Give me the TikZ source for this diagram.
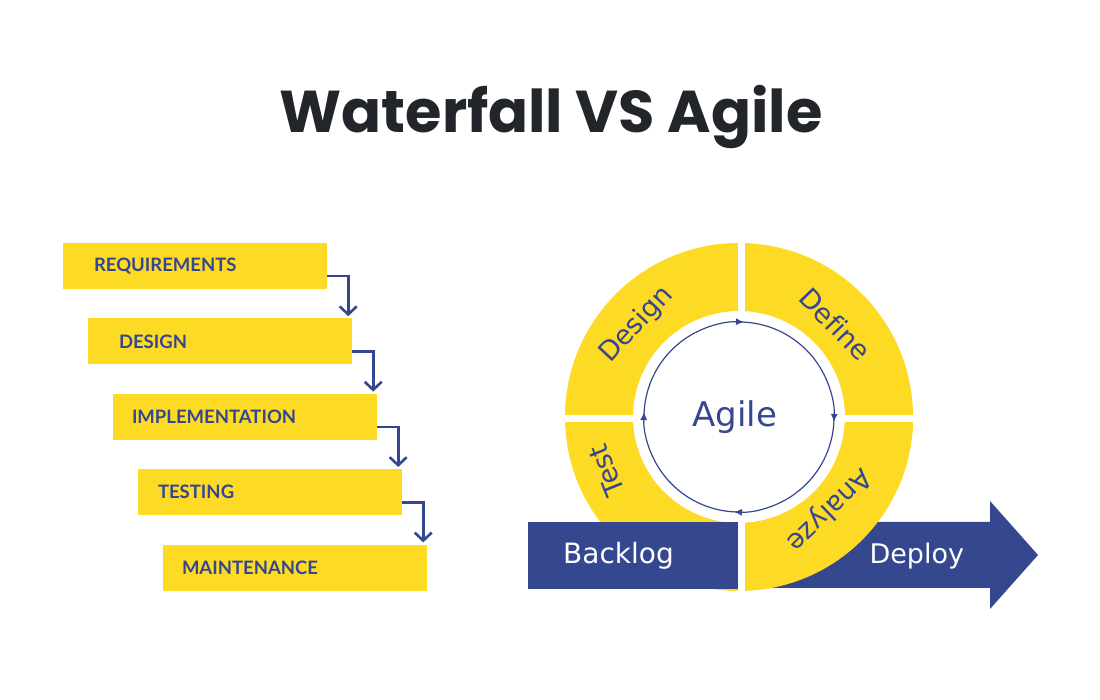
\documentclass[tikz,border=0pt]{standalone}
\usepackage{fontspec}
\setmainfont{DejaVu Sans}[Ligatures=NoCommon]
\newfontfamily\titlefont{Poppins}
\newfontfamily\stepfont{Lato}
\usetikzlibrary{arrows.meta, positioning}

\definecolor{wfyellow}{HTML}{FDDA24}
\definecolor{wfblue}{HTML}{35478F}
\definecolor{titlegray}{HTML}{222529}

\begin{document}
\begin{tikzpicture}[
    x=1pt, y=1pt,
    node distance=29pt,
    wfbox/.style={fill=wfyellow, text=wfblue, align=left,
                  minimum height=46pt, inner ysep=0pt,
                  inner xsep=#1, text width=264pt-2*#1,
                  font=\stepfont\bfseries\fontsize{18.5}{22}\selectfont},
    flow/.style={-{Straight Barb[length=8pt,width=17pt]}, wfblue, line width=2.6pt},
    ringtext/.style={text=wfblue, font=\fontsize{27}{30}\selectfont},
    cyc/.style={-{Latex[length=8pt,width=7pt]}, wfblue, line width=1.2pt},
    whitetext/.style={text=white, font=\fontsize{27}{32}\selectfont}
]
\useasboundingbox[fill=white] (0,0) rectangle (1100,700);

% title
\node[anchor=base, text=titlegray, font=\titlefont\bfseries\fontsize{59}{66}\selectfont]
    (title) at (551,567) {Waterfall VS Agile};

% waterfall steps
\node[wfbox=31pt] (req) at (195,434) {REQUIREMENTS};
\node[wfbox=31pt, below=of req, xshift=25pt] (des) {DESIGN};
\node[wfbox=19pt, below=of des, xshift=25pt] (impl) {IMPLEMENTATION};
\node[wfbox=20pt, below=of impl, xshift=25pt] (test) {TESTING};
\node[wfbox=19pt, below=of test, xshift=25pt] (maint) {MAINTENANCE};

\draw[flow] ([yshift=13pt]req.south east) -| ([xshift=-4pt,yshift=2pt]des.north east);
\draw[flow] ([yshift=13pt]des.south east) -| ([xshift=-4pt,yshift=2pt]impl.north east);
\draw[flow] ([yshift=13pt]impl.south east) -| ([xshift=-4pt,yshift=2pt]test.north east);
\draw[flow] ([yshift=13pt]test.south east) -| ([xshift=-4pt,yshift=2pt]maint.north east);

% agile ring
\coordinate (c) at (739,283);
\fill[wfyellow, even odd rule] (c) circle[radius=174] (c) circle[radius=106];

% deploy arrow, partly behind the ring
\fill[wfblue] (760,112) -- (990,112) -- (990,91) -- (1038,145)
    -- (990,199) -- (990,178) -- (760,178) -- cycle;
\begin{scope}
    \clip (600,111) rectangle (950,300);
    \fill[wfyellow] ([shift={(0:174)}]c) arc[start angle=0, end angle=-90, radius=174]
        -- ([shift={(-90:106)}]c) arc[start angle=-90, end angle=0, radius=106] -- cycle;
\end{scope}
\node[whitetext, anchor=base west] (deploy) at (866,136) {Deploy};

\node[fill=wfblue, text=white, font=\fontsize{28}{32}\selectfont, anchor=south west,
      minimum height=67pt, inner ysep=0pt, inner xsep=35pt, text width=143pt, align=left]
    (backlog) at (528,111) {Backlog};

% gaps between the parts
\draw[white, line width=7pt] (741,105) -- (741,462);
\draw[white, line width=7pt] (560,281) -- (920,281);

\node[ringtext, rotate=47] (tdesign) at ([shift={(138:138)}]c) {Design};
\node[ringtext, rotate=-46] (tdefine) at ([shift={(44:134)}]c) {Define};
\node[ringtext, rotate=-136] (tanalyze) at ([shift={(-46:129)}]c) {Analyze};
\node[ringtext, rotate=112] (ttest) at ([shift={(202:143)}]c) {Test};

% inner cycle
\foreach \a in {180,90,0,-90}
    \draw[cyc] ([shift={(\a:95)}]c) arc[start angle=\a, end angle=\a-93, radius=95];
\node[anchor=base, text=wfblue, font=\fontsize{34}{40}\selectfont] (agile) at (735,273) {Agile};
\end{tikzpicture}
\end{document}
